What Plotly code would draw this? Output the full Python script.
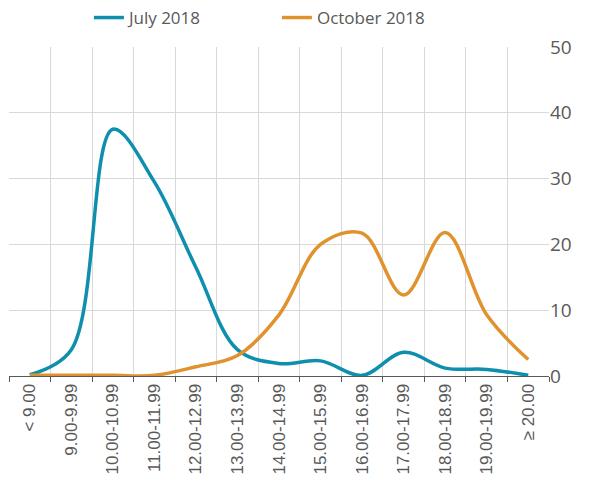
import plotly.graph_objects as go

categories = ['< 9.00', '9.00-9.99', '10.00-10.99', '11.00-11.99', '12.00-12.99',
              '13.00-13.99', '14.00-14.99', '15.00-15.99', '16.00-16.99',
              '17.00-17.99', '18.00-18.99', '19.00-19.99', '≥ 20.00']
july_2018 = [0.2, 4.0, 37.5, 29.5, 16.5, 4.0, 1.9, 2.3, 0.1, 3.6, 1.2, 1.0, 0.1]
october_2018 = [0.1, 0.1, 0.1, 0.1, 1.4, 3.1, 9.3, 20.0, 21.7, 12.3, 21.8, 9.3, 2.5]

fig = go.Figure()

fig.add_trace(go.Scatter(x=categories, y=july_2018, mode='lines', name='July 2018',
                         line=dict(color='#0e8fae', width=3.5, shape='spline', smoothing=1.0)))
fig.add_trace(go.Scatter(x=categories, y=october_2018, mode='lines', name='October 2018',
                         line=dict(color='#e0922f', width=3.5, shape='spline', smoothing=1.0)))

fig.update_layout(
    width=592, height=494,
    margin=dict(l=9, r=43, t=47, b=118, autoexpand=False),
    plot_bgcolor='white', paper_bgcolor='white',
    font=dict(family='Open Sans, Liberation Sans, sans-serif', color='#595959', size=16),
    legend=dict(orientation='h', x=0.148, xanchor='left', y=1, yanchor='top',
                yref='container', font=dict(size=17), entrywidth=143, entrywidthmode='pixels'),
    xaxis=dict(
        type='category', range=[-0.5, 12.5], tickson='boundaries',
        showgrid=True, gridcolor='#d9d9d9', gridwidth=1,
        showline=True, linecolor='#595959', linewidth=1,
        ticks='outside', ticklen=5, tickcolor='#595959',
        tickangle=-90, automargin=False,
        tickfont=dict(size=17, family='Liberation Sans, Arial, sans-serif'),
    ),
    yaxis=dict(
        side='right', range=[0, 50], dtick=10, automargin=False,
        showgrid=True, gridcolor='#d9d9d9', gridwidth=1,
        zeroline=False, ticks='', tickfont=dict(size=19),
    ),
)

fig.write_html("out.html", config={'displayModeBar': False},
               post_script="document.body.style.margin='0';")
